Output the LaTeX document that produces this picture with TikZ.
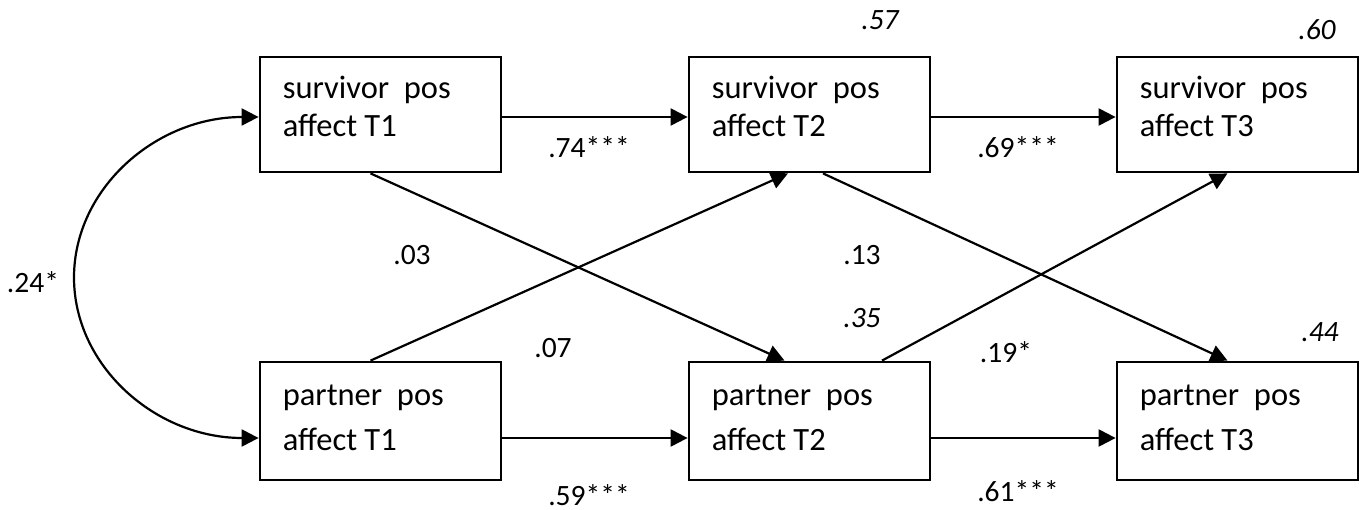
\documentclass[tikz,border=0pt]{standalone}
\usepackage{fontspec}
\setmainfont{Carlito}
\usetikzlibrary{arrows.meta}
\begin{document}
\begin{tikzpicture}[x=1pt,y=-1pt,
  varbox/.style={draw, line width=2.8pt, minimum width=241pt, inner sep=0pt},
  boxtext/.style={anchor=base west, inner sep=0pt, font=\fontsize{32.5}{38}\selectfont},
  tip/.style={Triangle[length=17pt,width=17pt]},
  conn/.style={line width=2.2pt, -{Triangle[length=17pt,width=17pt]}},
  coef/.style={font=\fontsize{29.5}{34}\selectfont, inner sep=0pt},
  rsq/.style={font=\fontsize{29.5}{34}\selectfont\itshape, inner sep=0pt}]
\useasboundingbox (0,0) rectangle (1362,510);
% boxes
\node[varbox, minimum height=115pt] (s1) at (380.5,114.5) {};
\node[varbox, minimum height=115pt] (s2) at (809.5,114.5) {};
\node[varbox, minimum height=115pt] (s3) at (1237.5,114.5) {};
\node[varbox, minimum height=118pt] (p1) at (380.5,421) {};
\node[varbox, minimum height=118pt] (p2) at (809.5,421) {};
\node[varbox, minimum height=118pt] (p3) at (1237.5,421) {};
% box texts
\node[boxtext] (s1a) at ([shift={(24,43)}]s1.north west) {survivor\ \ pos};
\node[boxtext] (s1b) at ([shift={(24,81)}]s1.north west) {affect T1};
\node[boxtext] (s2a) at ([shift={(24,43)}]s2.north west) {survivor\ \ pos};
\node[boxtext] (s2b) at ([shift={(24,81)}]s2.north west) {affect T2};
\node[boxtext] (s3a) at ([shift={(24,43)}]s3.north west) {survivor\ \ pos};
\node[boxtext] (s3b) at ([shift={(24,81)}]s3.north west) {affect T3};
\node[boxtext] (p1a) at ([shift={(24,45)}]p1.north west) {partner\ \ pos};
\node[boxtext] (p1b) at ([shift={(24,90)}]p1.north west) {affect T1};
\node[boxtext] (p2a) at ([shift={(24,45)}]p2.north west) {partner\ \ pos};
\node[boxtext] (p2b) at ([shift={(24,90)}]p2.north west) {affect T2};
\node[boxtext] (p3a) at ([shift={(24,45)}]p3.north west) {partner\ \ pos};
\node[boxtext] (p3b) at ([shift={(24,90)}]p3.north west) {affect T3};
% horizontal paths
\draw[conn] ([yshift=-2.5pt]s1.east) -- ([yshift=-2.5pt]s2.west);
\draw[conn] ([yshift=-2.5pt]s2.east) -- ([yshift=-2.5pt]s3.west);
\draw[conn] ([yshift=-17pt]p1.east) -- ([yshift=-17pt]p2.west);
\draw[conn] ([yshift=-17pt]p2.east) -- ([yshift=-17pt]p3.west);
% cross paths
\draw[conn] ([xshift=-10pt]s1.south) -- ([xshift=-25pt]p2.north);
\draw[conn] ([xshift=-10pt]p1.north) -- ([xshift=-21.5pt]s2.south);
\draw[conn] ([xshift=13.5pt]s2.south) -- ([xshift=-10pt]p3.north);
\draw[conn] ([xshift=72.5pt]p2.north) -- ([xshift=-10pt]s3.south);
% covariance
\coordinate (arcL) at (74,277.5);
\draw[line width=2.2pt, {Triangle[length=17pt,width=17pt]}-{Triangle[length=17pt,width=17pt]}]
  ([yshift=-17pt]p1.west) .. controls +(-103,0) and +(0,88.6) .. (arcL)
  .. controls +(0,-88.6) and +(-103,0) .. ([yshift=-2.5pt]s1.west);
% coefficients
\node[coef] (c74) at (589,147) {.74***};
\node[coef] (c69) at (1018,147) {.69***};
\node[coef] (c59) at (589,495) {.59***};
\node[coef] (c61) at (1018,491) {.61***};
\node[coef] (c03) at (412,255) {.03};
\node[coef] (c13) at (862,255) {.13};
\node[coef] (c07) at (553,348) {.07};
\node[coef] (c19) at (1006,352) {.19*};
\node[coef] (c24) at (33,282) {.24*};
% R squared
\node[rsq] (r57) at (880,20) {.57};
\node[rsq] (r60) at (1317,30) {.60};
\node[rsq] (r35) at (862,318) {.35};
\node[rsq] (r44) at (1320,332) {.44};
\end{tikzpicture}
\end{document}
